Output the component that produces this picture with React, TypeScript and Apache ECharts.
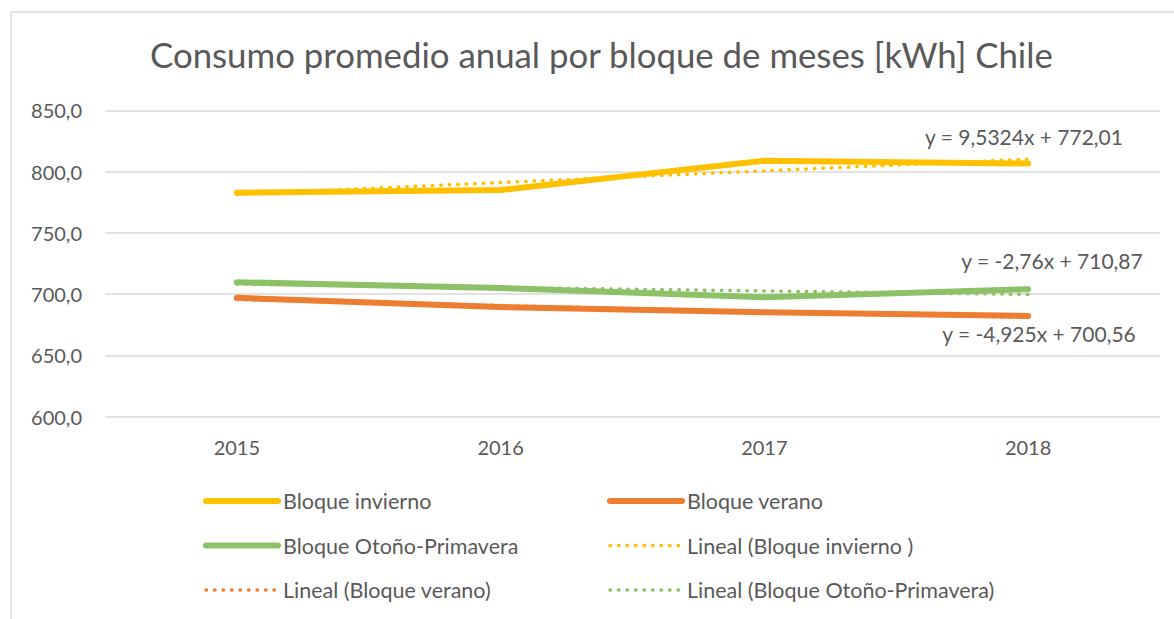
import React, { useEffect, useRef } from "react";
import * as echarts from "echarts";

const years = ["2015", "2016", "2017", "2018"];
const invierno = [782.8, 785.0, 808.9, 806.6];
const verano = [697.0, 689.5, 685.2, 682.2];
const otonoPrimavera = [709.7, 705.0, 697.5, 704.0];
const trendInvierno = [781.5, 791.1, 800.6, 810.1];
const trendVerano = [695.6, 690.7, 685.8, 680.9];
const trendOtono = [708.1, 705.4, 702.6, 699.8];
const equations = ["y = 9,5324x + 772,01", "y = -2,76x + 710,87", "y = -4,925x + 700,56"];
const yMin = 600;
const yMax = 850;
const yStep = 50;
const titleText = "Consumo promedio anual por bloque de meses [kWh] Chile";

const YELLOW = "#FFC000";
const ORANGE = "#ED7D31";
const GREEN = "#8CC168";
const TEXT = "#595959";
const FONT = "Lato, 'Open Sans', sans-serif";

const SOLID_STYLE = { width: 6, cap: "round" };
const DOT_STYLE = { width: 3.5, type: [0.5, 8], cap: "round" };

export default function App() {
  const ref = useRef<HTMLDivElement>(null);
  useEffect(() => {
    if (!ref.current) return;
    const chart = echarts.init(ref.current, null, { renderer: "svg" });
    const solid = (name: string, data: number[], color: string) => ({
      name,
      type: "line",
      data,
      symbol: "none",
      color,
      lineStyle: { color, ...SOLID_STYLE, join: "round" },
      z: 2,
    });
    const dotted = (name: string, data: number[], color: string) => ({
      name,
      type: "line",
      data,
      symbol: "none",
      color,
      lineStyle: { color, ...DOT_STYLE },
      z: 3,
    });
    const legendBase = {
      orient: "vertical",
      itemWidth: 72,
      itemHeight: 20,
      itemGap: 22.5,
      padding: 0,
      itemStyle: { opacity: 0 },
      textStyle: { fontFamily: FONT, fontSize: 21.5, color: TEXT, lineHeight: 20 },
      top: 490,
    };
    const item = (name: string, dotted: boolean) => ({
      name,
      itemStyle: { opacity: 0 },
      lineStyle: dotted ? { ...DOT_STYLE } : { ...SOLID_STYLE },
    });
    const eqStyle = { fill: TEXT, font: `21px ${FONT}`, align: "center", verticalAlign: "middle" };
    chart.setOption({
      animation: false,
      backgroundColor: "#ffffff",
      title: {
        text: titleText,
        left: 150,
        top: 37,
        padding: 0,
        textStyle: { fontFamily: FONT, fontSize: 34.8, fontWeight: "normal", color: TEXT },
      },
      grid: { left: 105, right: 14, top: 110.3, bottom: 202.3, containLabel: false },
      xAxis: {
        type: "category",
        data: years,
        boundaryGap: true,
        axisLine: { show: false },
        axisTick: { show: false },
        axisLabel: { fontFamily: FONT, fontSize: 20, color: TEXT, margin: 20 },
      },
      yAxis: {
        type: "value",
        min: yMin,
        max: yMax,
        interval: yStep,
        axisLine: { show: false },
        axisTick: { show: false },
        axisLabel: {
          fontFamily: FONT,
          fontSize: 20,
          color: TEXT,
          margin: 23,
          formatter: (v: number) => v.toFixed(1).replace(".", ","),
        },
        splitLine: { lineStyle: { color: "#D9D9D9", width: 1.5 } },
      },
      legend: [
        {
          ...legendBase,
          left: 203,
          data: [
            item("Bloque invierno", false),
            item("Bloque Otoño-Primavera", false),
            item("Lineal (Bloque verano)", true),
          ],
        },
        {
          ...legendBase,
          left: 607,
          data: [
            item("Bloque verano", false),
            item("Lineal (Bloque invierno )", true),
            item("Lineal (Bloque Otoño-Primavera)", true),
          ],
        },
      ],
      series: [
        solid("Bloque invierno", invierno, YELLOW),
        solid("Bloque verano", verano, ORANGE),
        solid("Bloque Otoño-Primavera", otonoPrimavera, GREEN),
        dotted("Lineal (Bloque invierno )", trendInvierno, YELLOW),
        dotted("Lineal (Bloque verano)", trendVerano, ORANGE),
        dotted("Lineal (Bloque Otoño-Primavera)", trendOtono, GREEN),
      ],
      graphic: [
        { type: "line", shape: { x1: 11, y1: 12, x2: 1174, y2: 12 }, style: { stroke: "#D9D9D9", lineWidth: 1.5 } },
        { type: "line", shape: { x1: 11, y1: 12, x2: 11, y2: 619 }, style: { stroke: "#D9D9D9", lineWidth: 1.5 } },
        { type: "text", x: 1024, y: 136, style: { text: equations[0], ...eqStyle } },
        { type: "text", x: 1052, y: 260, style: { text: equations[1], ...eqStyle } },
        { type: "text", x: 1039, y: 333, style: { text: equations[2], ...eqStyle } },
      ],
    });
    return () => chart.dispose();
  }, []);
  return (
    <div
      ref={ref}
      style={{ position: "fixed", left: 0, top: 0, width: 1174, height: 619, background: "#fff" }}
    />
  );
}
